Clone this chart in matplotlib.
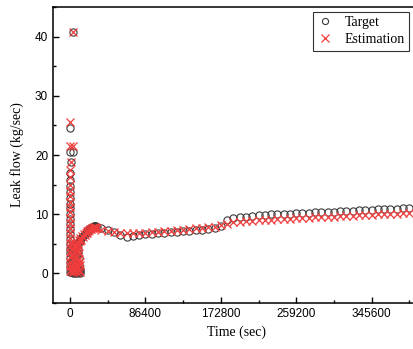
import matplotlib
matplotlib.use("Agg")
import matplotlib.pyplot as plt
from matplotlib.ticker import MultipleLocator

# начальный всплеск (t ~ 0)
spike_t = [300, 300, 600, 500, 400, 500, 400, 500, 400, 500, 400, 500, 400, 500, 400, 500, 400, 500, 400, 500, 400, 500, 400]
spike_target = [24.5, 20.5, 18.8, 17.0, 15.8, 14.8, 13.8, 12.8, 11.8, 11.0, 10.0, 9.2, 8.3, 7.5, 6.6, 5.8, 5.0, 4.2, 3.4, 2.6, 1.8, 1.0, 0.3]
spike_est = [25.5, 21.5, 18.8, 17.5, 16.3, 15.0, 14.0, 13.0, 12.0, 11.2, 10.3, 9.4, 8.5, 7.6, 6.8, 6.0, 5.2, 4.4, 3.6, 2.8, 2.0, 1.2, 0.4]
spike_t2 = [3300, 3300, 3500]
spike_target2 = [40.7, 20.5, 0.2]
spike_est2 = [40.7, 21.6, 0.4]

# низкие значения сразу после всплеска
low_t = [1500, 2200, 3000, 3800, 4500, 5200, 6000, 6800, 7500, 8200, 9000, 9800,
         1800, 2600, 4200, 5600, 7000, 8600, 2400, 5000,
         10500, 11200, 11800, 10000, 10800, 9400, 8800, 11500, 6400, 3600]
low_target = [0.2, 0.4, 0.1, 0.3, 0.2, 0.5, 0.1, 0.3, 0.2, 0.1, 0.2, 0.3,
              2.0, 3.2, 1.5, 2.5, 1.0, 0.8, 4.5, 3.8,
              0.2, 0.4, 0.1, 1.5, 2.6, 3.4, 4.0, 0.8, 3.0, 2.4]
low_est = [0.5, 1.2, 0.3, 2.2, 0.8, 1.6, 0.4, 2.8, 1.0, 0.2, 1.8, 0.6,
           3.0, 4.2, 2.6, 3.4, 1.4, 2.2, 5.2, 4.6,
           0.6, 1.4, 0.2, 2.4, 3.4, 4.0, 4.6, 1.9, 3.8, 3.3]

# участок роста
rise_t = [6000, 7000, 8000, 9000, 10000, 11000, 12000, 13000, 14000, 15000, 16000, 17000, 18000, 19000, 20000, 21000, 22000, 23000, 24000, 25000, 26000, 27000, 28000, 29000, 30000, 31500]
rise_target = [4.5, 4.7, 4.9, 5.1, 5.3, 5.5, 5.7, 5.9, 6.1, 6.3, 6.5, 6.7, 6.85, 7.0, 7.15, 7.3, 7.45, 7.6, 7.7, 7.8, 7.9, 7.95, 8.0, 8.05, 8.0, 7.9]
rise_est = [4.8, 4.4, 5.3, 4.9, 5.6, 5.4, 6.0, 5.7, 6.3, 6.2, 6.6, 6.5, 6.9, 6.8, 7.1, 7.2, 7.3, 7.5, 7.5, 7.7, 7.6, 7.8, 7.7, 7.8, 7.7, 7.6]

# основной участок, шаг 2 часа
main_t = [36000, 43200, 50400, 57600, 64800, 72000, 79200, 86400, 93600, 100800,
          108000, 115200, 122400, 129600, 136800, 144000, 151200, 158400, 165600, 172800,
          180000, 187200, 194400, 201600, 208800, 216000, 223200, 230400, 237600, 244800,
          252000, 259200, 266400, 273600, 280800, 288000, 295200, 302400, 309600, 316800,
          324000, 331200, 338400, 345600, 352800, 360000, 367200, 374400, 381600, 388800]
main_target = [7.6, 7.3, 7.0, 6.5, 6.2, 6.3, 6.5, 6.6, 6.7, 6.8,
               6.9, 6.95, 7.0, 7.1, 7.2, 7.3, 7.4, 7.5, 7.6, 8.0,
               9.0, 9.3, 9.5, 9.6, 9.7, 9.8, 9.9, 9.95, 10.0, 10.05,
               10.1, 10.15, 10.2, 10.25, 10.3, 10.35, 10.4, 10.45, 10.5, 10.55,
               10.6, 10.65, 10.7, 10.75, 10.8, 10.85, 10.9, 10.95, 11.0, 11.05]
main_est = [7.4, 7.2, 7.0, 6.9, 6.8, 6.8, 6.9, 6.9, 7.0, 7.0,
            7.1, 7.2, 7.3, 7.4, 7.5, 7.6, 7.7, 7.8, 7.9, 8.1,
            8.4, 8.6, 8.7, 8.8, 8.9, 9.0, 9.05, 9.1, 9.15, 9.2,
            9.25, 9.3, 9.35, 9.4, 9.45, 9.5, 9.55, 9.6, 9.65, 9.7,
            9.75, 9.8, 9.85, 9.9, 9.95, 10.0, 10.05, 10.1, 10.15, 10.2]

x_ticks = [0, 86400, 172800, 259200, 345600]
y_ticks = [0, 10, 20, 30, 40]

t_all = spike_t + spike_t2 + low_t + rise_t + main_t
target_all = spike_target + spike_target2 + low_target + rise_target + main_target
est_all = spike_est + spike_est2 + low_est + rise_est + main_est

fig = plt.figure(figsize=(4.13, 3.49), dpi=100)
ax = fig.add_axes([53 / 413, 1 - 303 / 349, 367 / 413, 296 / 349])

ax.plot(t_all, target_all, 'o', mfc='none', mec='#3a3a3a', ms=5.2, mew=0.8, label='Target')
ax.plot(t_all, est_all, 'x', color='#f03c3c', ms=6, mew=0.9, label='Estimation')

ax.set_xlim(-19480, 401060)
ax.set_ylim(-5, 45)
ax.set_xticks(x_ticks)
ax.set_yticks(y_ticks)
ax.xaxis.set_minor_locator(MultipleLocator(43200))
ax.yaxis.set_minor_locator(MultipleLocator(5))
ax.tick_params(which='both', direction='in', labelsize=8.5, width=1)
ax.tick_params(which='major', length=4)
ax.tick_params(which='minor', length=2)
for lbl in ax.get_xticklabels() + ax.get_yticklabels():
    lbl.set_fontfamily('Liberation Sans')
for s in ax.spines.values():
    s.set_linewidth(1.1)

ax.set_xlabel('Time (sec)', fontfamily='Liberation Serif', fontsize=10, labelpad=4)
ax.set_ylabel('Leak flow (kg/sec)', fontfamily='Liberation Serif', fontsize=10, labelpad=8)

leg = ax.legend(loc='upper right', bbox_to_anchor=(409 / 413, 1 - 12 / 349),
                bbox_transform=fig.transFigure, frameon=True, fancybox=False,
                edgecolor='black', handletextpad=0.8, borderaxespad=0,
                prop={'family': 'Liberation Serif', 'size': 10}, labelspacing=0.3,
                handlelength=1.2, borderpad=0.3, markerscale=0.85)
leg.get_frame().set_linewidth(0.8)

fig.savefig('out.png', dpi=100)
